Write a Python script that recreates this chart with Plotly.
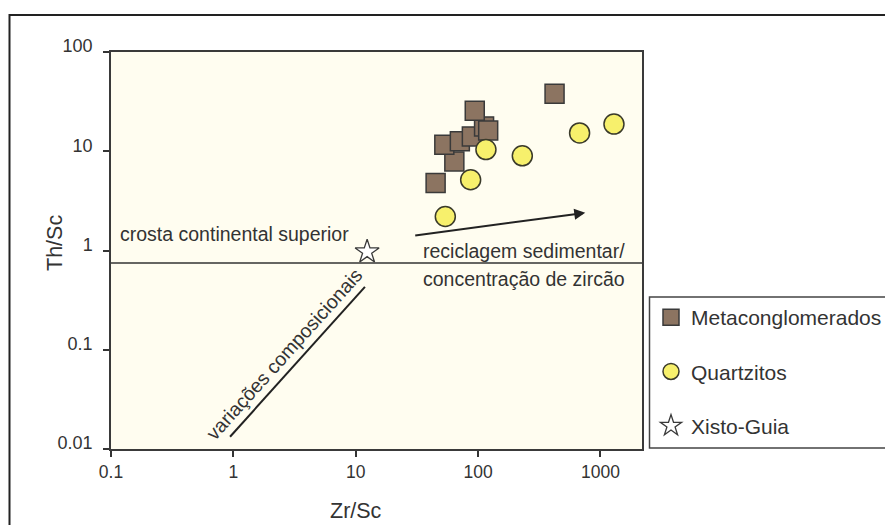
import math
import plotly.graph_objects as go

# Zr/Sc vs Th/Sc ratios
meta_zr_sc = [45, 64, 53, 71, 89, 112, 121, 94, 422]
meta_th_sc = [4.8, 7.9, 11.6, 12.6, 14.1, 17.8, 16.2, 25.6, 38.0]

quartz_zr_sc = [54, 87, 116, 230, 676, 1291]
quartz_th_sc = [2.2, 5.16, 10.4, 9.0, 15.3, 18.8]

xisto_zr_sc = [12.4]
xisto_th_sc = [0.97]

# upper continental crust Th/Sc reference
ucc_th_sc = 0.75

# compositional-variation trend and recycling arrow (start, end)
trend_zr_sc = [0.94, 11.9]
trend_th_sc = [0.0133, 0.43]
recycle_zr_sc = [29.8, 752]
recycle_th_sc = [1.41, 2.40]

x_tick_vals = [0.1, 1, 10, 100, 1000]
x_tick_text = ["0.1", "1", "10", "100", "1000"]
y_tick_vals = [0.01, 0.1, 1, 10, 100]
y_tick_text = ["0.01", "0.1", "1", "10", "100"]

X_RANGE = [-1, 3.34]
Y_RANGE = [-2, 2]

FONT = "Liberation Sans, Arial, sans-serif"
INK = "#333333"

W, H = 885, 525
ML, MR, MT, MB = 111, 243, 52, 76
PW, PH = W - ML - MR, H - MT - MB


def px(xp):
    return (xp - ML) / PW


def py(yp):
    return (H - MB - yp) / PH


fig = go.Figure()

# reference line for upper continental crust
fig.add_trace(go.Scatter(
    x=[10 ** X_RANGE[0], 10 ** X_RANGE[1]], y=[ucc_th_sc, ucc_th_sc],
    mode="lines", line=dict(color=INK, width=1.5),
    showlegend=False, hoverinfo="skip"))

# compositional variation trend
fig.add_trace(go.Scatter(
    x=trend_zr_sc, y=trend_th_sc, mode="lines",
    line=dict(color="#222222", width=2),
    showlegend=False, hoverinfo="skip"))

fig.add_trace(go.Scatter(
    x=meta_zr_sc, y=meta_th_sc, mode="markers", name="Metaconglomerados",
    legendgroup="meta",
    marker=dict(symbol="square", size=19, color="#8c7461",
                line=dict(color="#3a3a3a", width=1.5))))

fig.add_trace(go.Scatter(
    x=quartz_zr_sc, y=quartz_th_sc, mode="markers", name="Quartzitos",
    legendgroup="quartz",
    marker=dict(symbol="circle", size=20, color="#f7f06c",
                line=dict(color="#3a3a2a", width=1.5))))

fig.add_trace(go.Scatter(
    x=xisto_zr_sc, y=xisto_th_sc, mode="markers", name="Xisto-Guia",
    legendgroup="xisto",
    marker=dict(symbol="star", size=18, color="white",
                line=dict(color="#3a3a3a", width=1.3))))

annotations = [
    # recycling arrow
    dict(x=math.log10(recycle_zr_sc[1]), y=math.log10(recycle_th_sc[1]),
         ax=math.log10(recycle_zr_sc[0]), ay=math.log10(recycle_th_sc[0]),
         xref="x", yref="y", axref="x", ayref="y", text="",
         showarrow=True, arrowhead=2, arrowsize=1.1, arrowwidth=2,
         arrowcolor="#222222"),
    dict(x=px(118), y=py(233.5), xref="paper", yref="paper",
         text="crosta continental superior", showarrow=False,
         xanchor="left", yanchor="middle"),
    dict(x=px(421), y=py(251), xref="paper", yref="paper",
         text="reciclagem sedimentar/", showarrow=False,
         xanchor="left", yanchor="middle"),
    dict(x=px(421), y=py(279), xref="paper", yref="paper",
         text="concentração de zircão", showarrow=False,
         xanchor="left", yanchor="middle"),
    dict(x=px(284), y=py(354), xref="paper", yref="paper",
         text="variações composicionais", showarrow=False, textangle=-48,
         xanchor="center", yanchor="middle"),
    # axis titles
    dict(x=px(356), y=py(511), xref="paper", yref="paper", text="Zr/Sc",
         showarrow=False, font=dict(size=21.5), xanchor="center", yanchor="middle"),
    dict(x=px(55), y=py(243), xref="paper", yref="paper", text="Th/Sc",
         showarrow=False, font=dict(size=21.5), textangle=-90,
         xanchor="center", yanchor="middle"),
]

shapes = [
    # outer frame
    dict(type="rect", xref="paper", yref="paper",
         x0=px(9.5), x1=px(900), y0=py(540), y1=py(15),
         line=dict(color="#222222", width=2), layer="above"),
    # legend frame
    dict(type="rect", xref="paper", yref="paper",
         x0=px(649.5), x1=px(900), y0=py(448), y1=py(297),
         line=dict(color="#444444", width=1.5), layer="above"),
]

fig.update_layout(
    width=W, height=H,
    margin=dict(l=ML, r=MR, t=MT, b=MB, autoexpand=False),
    paper_bgcolor="white", plot_bgcolor="#fffdf0",
    font=dict(family=FONT, size=19.5, color=INK),
    annotations=annotations, shapes=shapes,
    legend=dict(x=px(651), y=py(297), xanchor="left", yanchor="top",
                font=dict(size=21, color=INK), bgcolor="rgba(0,0,0,0)",
                borderwidth=0, tracegroupgap=24, traceorder="grouped"),
    xaxis=dict(type="log", range=X_RANGE, tickvals=x_tick_vals,
               ticktext=x_tick_text, ticks="outside", ticklen=6,
               tickwidth=1.5, tickcolor=INK, showline=True, mirror=True,
               linecolor="#3a3a3a", linewidth=1.5, showgrid=False,
               zeroline=False, tickfont=dict(size=17.5, color=INK)),
    yaxis=dict(type="log", range=Y_RANGE, tickvals=y_tick_vals,
               ticktext=y_tick_text, ticks="outside", ticklen=6,
               tickwidth=1.5, tickcolor=INK, showline=True, mirror=True,
               linecolor="#3a3a3a", linewidth=1.5, showgrid=False,
               zeroline=False, ticklabelposition="outside",
               ticklabelshift=-6, ticklabelstandoff=7,
               tickfont=dict(size=18, color=INK)),
)

fig.write_html("out.html")
